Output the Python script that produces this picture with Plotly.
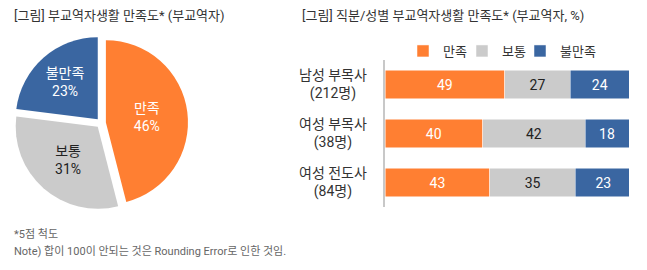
import plotly.graph_objects as go

FONT = "Roboto, 'Noto Sans CJK KR', sans-serif"

# Pie data
pie_labels = ["만족", "보통", "불만족"]
pie_values = [46, 31, 23]

# Bar data
groups = ["남성 부목사<br>(212명)", "여성 부목사<br>(38명)", "여성 전도사<br>(84명)"]
satisfied = [49, 40, 43]
neutral = [27, 42, 35]
dissatisfied = [24, 18, 23]
series_names = ["만족", "보통", "불만족"]

colors = ["#FF7F32", "#CBCBCB", "#3A66A1"]
text_colors = ["white", "#222222", "white"]

title_left = "[그림] 부교역자생활 만족도* (부교역자)"
title_right = "[그림] 직분/성별 부교역자생활 만족도* (부교역자, %)"
note1 = "*5점 척도"
note2 = "Note) 합이 100이 안되는 것은 Rounding Error로 인한 것임."

W, H = 647, 270
def px(x):
    return x / W
def py(y):
    return 1 - y / H

fig = go.Figure()

fig.add_trace(go.Pie(
    labels=pie_labels, values=pie_values, sort=False, direction="clockwise",
    rotation=0, pull=[0.06, 0.06, 0.06],
    marker=dict(colors=colors, line=dict(width=0)),
    texttemplate="%{label}<br>%{value}%", textposition="inside",
    insidetextorientation="horizontal",
    textfont=dict(family=FONT, size=14, color=text_colors),
    domain=dict(x=[px(14), px(188)], y=[py(210), py(36)]),
    showlegend=False, hoverinfo="skip",
))

legend_ids = ["legend", "legend2", "legend3"]
legend_x = [403, 462, 520]

for name, vals, c, tc, lg in zip(series_names, [satisfied, neutral, dissatisfied], colors, text_colors, legend_ids):
    fig.add_trace(go.Bar(
        y=groups, x=vals, name=name, orientation="h",
        marker=dict(color=c, line=dict(width=0.5, color="white")),
        text=vals, textposition="inside", insidetextanchor="middle",
        textfont=dict(family=FONT, size=14, color=tc),
        textangle=0, constraintext="none",
        xaxis="x", yaxis="y", legend=lg,
    ))

legend_common = dict(orientation="h", y=py(36), xanchor="left", yanchor="top", itemwidth=30,
                     font=dict(family=FONT, size=13, color="#333333"),
                     bgcolor="rgba(0,0,0,0)")

fig.update_layout(
    width=W, height=H,
    margin=dict(l=0, r=0, t=0, b=0),
    paper_bgcolor="white", plot_bgcolor="white",
    barmode="stack", bargap=0.41,
    font=dict(family=FONT, size=13, color="#333333"),
    xaxis=dict(domain=[px(385), px(629)], range=[0, 100], visible=False, fixedrange=True),
    yaxis=dict(domain=[py(207), py(60)], autorange="reversed", showticklabels=False,
               showline=True, linecolor="#C8C8C8", linewidth=1.5, ticks="", showgrid=False,
               zeroline=False),
    legend=dict(x=px(legend_x[0]), **legend_common),
    legend2=dict(x=px(legend_x[1]), **legend_common),
    legend3=dict(x=px(legend_x[2]), **legend_common),
    showlegend=True,
)

for g in groups:
    fig.add_annotation(x=px(333), xref="paper", y=g, yref="y", text=g, showarrow=False,
                       xanchor="center", align="center",
                       font=dict(family=FONT, size=14, color="#333333"))

fig.add_annotation(x=px(12), y=py(16), xref="paper", yref="paper", text=title_left,
                   showarrow=False, xanchor="left", yanchor="middle",
                   font=dict(family=FONT, size=13, color="#333333"))
fig.add_annotation(x=px(300), y=py(16), xref="paper", yref="paper", text=title_right,
                   showarrow=False, xanchor="left", yanchor="middle",
                   font=dict(family=FONT, size=13, color="#333333"))
fig.add_annotation(x=px(12), y=py(234), xref="paper", yref="paper", text=note1,
                   showarrow=False, xanchor="left", yanchor="middle",
                   font=dict(family=FONT, size=11, color="#666666"))
fig.add_annotation(x=px(12), y=py(251), xref="paper", yref="paper", text=note2,
                   showarrow=False, xanchor="left", yanchor="middle",
                   font=dict(family=FONT, size=11, color="#666666"))

fig.write_html("out.html")
